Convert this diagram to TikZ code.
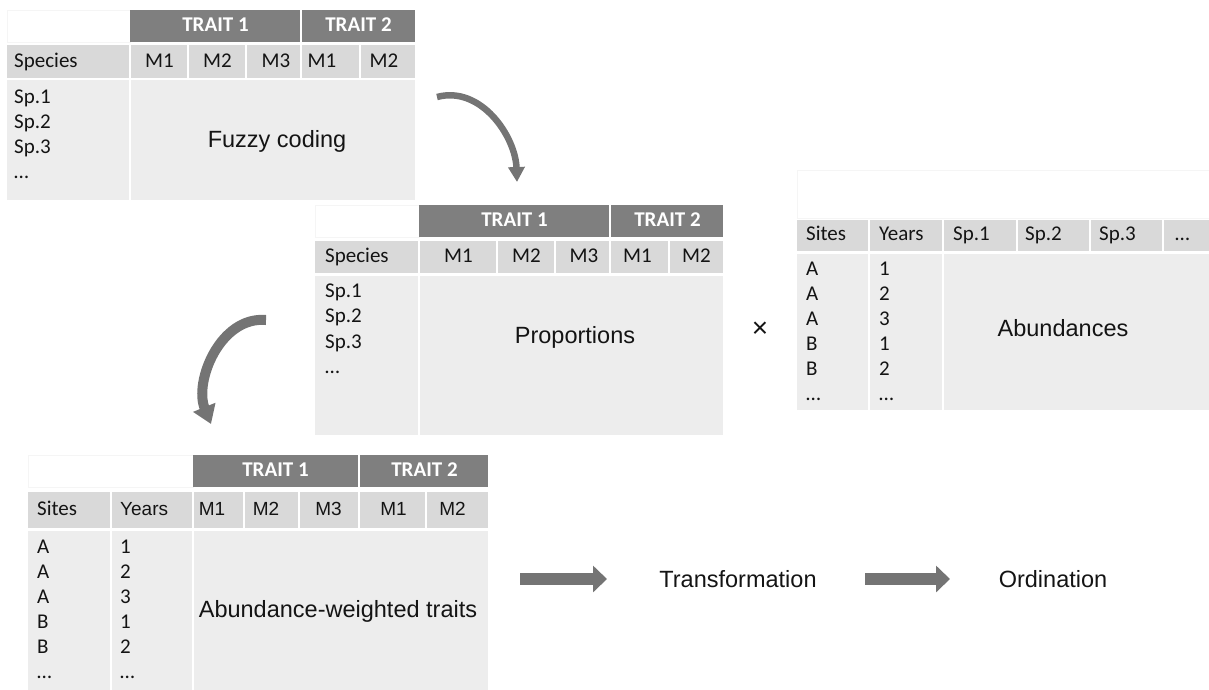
\documentclass[tikz,border=0pt]{standalone}
\usepackage{fontspec}
\setmainfont{Carlito}
\newfontfamily\arialf{Liberation Sans}
\usepackage{xcolor}
\usetikzlibrary{arrows.meta}
\definecolor{hdrgray}{HTML}{7F7F7F}
\definecolor{subgray}{HTML}{D9D9D9}
\definecolor{bodygray}{HTML}{EDEDED}
\definecolor{txtgray}{HTML}{141414}
\definecolor{arrgray}{HTML}{747474}
\newcommand\cellfont{\fontsize{21}{24}\selectfont}
\newcommand\labfont{\arialf\fontsize{23.5}{28}\selectfont}
\tikzset{
  trait/.style={fill=hdrgray},
  colrow/.style={fill=subgray},
  tbody/.style={fill=bodygray},
  blank/.style={fill=white, draw=black!4},
  sep/.style={draw=white, line width=2.5pt},
  blockarr/.style={draw=arrgray, line width=12pt, -{Triangle[width=26pt,length=14pt]}},
  bendarr/.style={draw=arrgray, line width=6.5pt, -{Triangle[width=16pt,length=15pt]}},
  bigbendarr/.style={draw=arrgray, line width=10pt, -{Triangle[width=23pt,length=18pt]}}
}

\begin{document}
\begin{tikzpicture}[x=1pt, y=1pt,
    cell/.style={font=\cellfont, text=txtgray, inner sep=0pt, text height=14pt, text depth=4pt},
    acell/.style={cell, font=\arialf\fontsize{19}{23}\selectfont},
    traitlbl/.style={cell, font=\cellfont\bfseries, text=white},
    labl/.style={font=\labfont, text=txtgray, inner sep=0pt, anchor=base}]
  \useasboundingbox (0,0) rectangle (1209,-689);

  % fuzzy coding table
  \path[blank] (7,-10) rectangle (130,-42);
  \fill[trait] (130,-10) rectangle (415,-42);
  \draw[sep] (301,-10) -- (301,-42);
  \fill[colrow] (7,-45) rectangle (415,-78);
  \foreach \x in {130,188,246,301,360} \draw[sep] (\x,-45) -- (\x,-78);
  \fill[tbody] (7,-80) rectangle (415,-200);
  \draw[sep] (130,-80) -- (130,-200);
  \node[traitlbl] (trA1) at (215.5,-26) {TRAIT 1};
  \node[traitlbl] (trA2) at (358.5,-26) {TRAIT 2};
  \node[cell, anchor=west] (spA) at (14,-62) {Species};
  \foreach \m/\x [count=\i] in {M1/159.5,M2/217.5,M3/276,M1/322,M2/384}
    \node[cell] (mA\i) at (\x,-62) {\m};
  \foreach \t [count=\i] in {Sp.1,Sp.2,Sp.3,…}
    \node[cell, anchor=west] (rA\i) at (14,{-73-25*\i}) {\t};
  \node[labl] (fuzzy) at (277,-147) {Fuzzy coding};

  % proportions table
  \path[blank] (315,-205) rectangle (419,-237);
  \fill[trait] (419,-205) rectangle (723,-237);
  \draw[sep] (610,-205) -- (610,-237);
  \fill[colrow] (315,-241) rectangle (723,-273);
  \foreach \x in {419,497,555,610,669} \draw[sep] (\x,-241) -- (\x,-273);
  \fill[tbody] (315,-276) rectangle (723,-435);
  \draw[sep] (419,-276) -- (419,-435);
  \node[traitlbl] (trB1) at (514.5,-221) {TRAIT 1};
  \node[traitlbl] (trB2) at (667.5,-221) {TRAIT 2};
  \node[cell, anchor=west] (spB) at (325,-257) {Species};
  \foreach \m/\x [count=\i] in {M1/458.5,M2/526.5,M3/584,M1/637.5,M2/696.5}
    \node[cell] (mB\i) at (\x,-257) {\m};
  \foreach \t [count=\i] in {Sp.1,Sp.2,Sp.3,…}
    \node[cell, anchor=west] (rB\i) at (325,{-266.5-25.5*\i}) {\t};
  \node[labl] (prop) at (575,-343) {Proportions};

  \node[labl, font=\arialf\fontsize{28}{30}\selectfont] (times) at (760,-337) {×};

  % abundances table
  \path[blank] (797,-170) rectangle (1212,-218);
  \fill[colrow] (797,-220) rectangle (1212,-251);
  \foreach \x in {869,943,1017,1090,1163} \draw[sep] (\x,-220) -- (\x,-251);
  \fill[tbody] (797,-254) rectangle (1212,-410);
  \draw[sep] (869,-254) -- (869,-410);
  \draw[sep] (943,-254) -- (943,-410);
  \foreach \h/\x [count=\i] in {Sites/806,Years/879,Sp.1/953,Sp.2/1025,Sp.3/1099,…/1175}
    \node[cell, anchor=west] (hC\i) at (\x,-235) {\h};
  \foreach \s/\y [count=\i] in {A/1,A/2,A/3,B/1,B/2,…/…} {
    \node[cell, anchor=west] (siC\i) at (806,{-245-25*\i}) {\s};
    \node[cell, anchor=west] (yrC\i) at (879,{-245-25*\i}) {\y};
  }
  \node[labl] (abund) at (1063,-336) {Abundances};

  % abundance-weighted traits table
  \path[blank] (28,-455) rectangle (193,-487);
  \fill[trait] (193,-455) rectangle (488,-487);
  \draw[sep] (359,-455) -- (359,-487);
  \fill[colrow] (28,-492) rectangle (488,-528);
  \foreach \x in {111,193,244,299,359,426} \draw[sep] (\x,-492) -- (\x,-528);
  \fill[tbody] (28,-531) rectangle (488,-692);
  \draw[sep] (111,-531) -- (111,-692);
  \draw[sep] (193,-531) -- (193,-692);
  \node[traitlbl] (trD1) at (275.5,-471) {TRAIT 1};
  \node[traitlbl] (trD2) at (424.5,-471) {TRAIT 2};
  \node[cell, anchor=west] (siD) at (37,-510) {Sites};
  \node[acell, anchor=west] (yrD) at (120,-510) {Years};
  \foreach \m/\x [count=\i] in {M1/212,M2/266,M3/328.5,M1/393.5,M2/452.5}
    \node[acell] (mD\i) at (\x,-510) {\m};
  \foreach \s/\y [count=\i] in {A/1,A/2,A/3,B/1,B/2,…/…} {
    \node[cell, anchor=west] (siD\i) at (37,{-523.5-25*\i}) {\s};
    \node[cell, anchor=west] (yrD\i) at (120,{-523.5-25*\i}) {\y};
  }
  \node[labl] (cwm) at (338,-617) {Abundance-weighted traits};

  \node[labl] (trans) at (738,-587) {Transformation};
  \node[labl] (ordin) at (1053,-587) {Ordination};

  % arrows
  \coordinate (b1s) at (437,-97);
  \coordinate (b1e) at (517,-182);
  \coordinate (b2s) at (266,-320);
  \coordinate (b2e) at (211,-424);
  \coordinate (s1a) at (520,-579);
  \coordinate (s1b) at (607,-579);
  \coordinate (s2a) at (865,-579);
  \coordinate (s2b) at (950,-579);
  \draw[bendarr] (b1s) to[out=15, in=92] (b1e);
  \draw[bigbendarr] (b2s) to[out=175, in=112] (b2e);
  \draw[blockarr] (s1a) -- (s1b);
  \draw[blockarr] (s2a) -- (s2b);
\end{tikzpicture}
\end{document}
